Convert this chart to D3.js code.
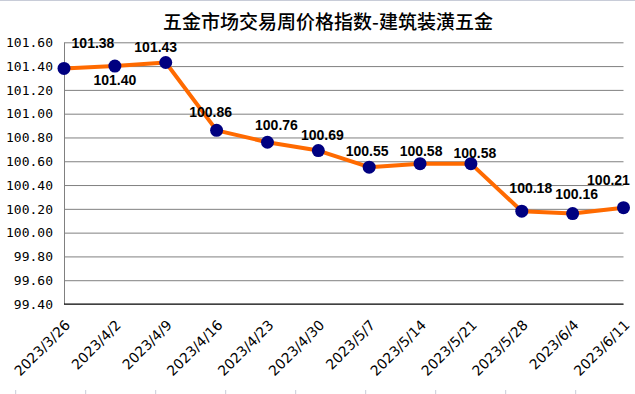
<!DOCTYPE html>
<meta charset="utf-8">
<style>
body { margin: 0; background: #fff; }
.grid line { stroke: #808080; stroke-width: 1; }
.grid path { display: none; }
.yAxis text { font-family: "DejaVu Sans Mono", monospace; font-size: 13px; fill: #000; }
.xAxis text { font-family: "DejaVu Sans", sans-serif; font-size: 14px; fill: #000; }
.valueLabel { font-family: "Liberation Sans", Arial, sans-serif; font-size: 14px; font-weight: bold; fill: #000; }
</style>
<script src="https://cdn.jsdelivr.net/npm/d3@7"></script>
<body>
<script>
const title = '五金市场交易周价格指数-建筑装潢五金';
const dates = ['2023/3/26', '2023/4/2', '2023/4/9', '2023/4/16', '2023/4/23', '2023/4/30',
               '2023/5/7', '2023/5/14', '2023/5/21', '2023/5/28', '2023/6/4', '2023/6/11'];
const values = [101.38, 101.40, 101.43, 100.86, 100.76, 100.69, 100.55, 100.58, 100.58, 100.18, 100.16, 100.21];
const yTicks = [99.40, 99.60, 99.80, 100.00, 100.20, 100.40, 100.60, 100.80, 101.00, 101.20, 101.40, 101.60];

// label offsets (dx, dy of baseline centre relative to point)
const labelOffsets = [[29, -20], [0, 19], [-10, -11], [-6, -13], [9, -12], [4, -11],
                      [-2, -11], [1, -8], [4, -6], [9, -18], [4, -15], [-15, -23]];

const W = 635, H = 394;
const plotLeft = 64, plotRight = 623.5, plotTop = 42.3, plotBottom = 304;

const svg = d3.select('body').append('svg')
  .attr('width', W).attr('height', H);

// faint outer border line at top
svg.append('line')
  .attr('x1', 0).attr('x2', W).attr('y1', 0.5).attr('y2', 0.5)
  .attr('stroke', '#c8ccd8');

svg.append('text')
  .attr('x', 328).attr('y', 29)
  .attr('text-anchor', 'middle')
  .style('font-family', '"Noto Sans CJK SC", sans-serif')
  .style('font-size', '19px')
  .style('font-weight', '500')
  .text(title);

const x = d3.scalePoint().domain(dates).range([plotLeft, plotRight]);
const y = d3.scaleLinear().domain([99.4, 101.6]).range([plotBottom, plotTop]);

// gridlines
svg.append('g').attr('class', 'grid')
  .attr('transform', `translate(${plotLeft},0)`)
  .call(d3.axisLeft(y).tickValues(yTicks).tickSize(-(plotRight - plotLeft)).tickFormat(''));

// y axis labels
const yAxis = svg.append('g').attr('class', 'yAxis')
  .attr('transform', `translate(${plotLeft},0)`)
  .call(d3.axisLeft(y).tickValues(yTicks).tickSize(0).tickPadding(11).tickFormat(d => d.toFixed(2)));
yAxis.select('.domain').attr('stroke', '#808080');

// x axis
svg.append('line')
  .attr('x1', plotLeft).attr('x2', plotRight).attr('y1', plotBottom).attr('y2', plotBottom)
  .attr('stroke', '#000');

const xAxis = svg.append('g').attr('class', 'xAxis');
xAxis.selectAll('text').data(dates).join('text')
  .attr('text-anchor', 'end')
  .attr('transform', d => `translate(${x(d) + 7},326) rotate(-45)`)
  .text(d => d);

// small ticks at very bottom
svg.append('g').selectAll('line').data(d3.range(9)).join('line')
  .attr('x1', i => 15.7 + 70 * i).attr('x2', i => 15.7 + 70 * i)
  .attr('y1', 390).attr('y2', 394)
  .attr('stroke', '#c8ccd8');

// line
const line = d3.line().x((d, i) => x(dates[i])).y(d => y(d));
svg.append('path')
  .datum(values)
  .attr('fill', 'none')
  .attr('stroke', '#ff6a00')
  .attr('stroke-width', 4)
  .attr('stroke-linejoin', 'round')
  .attr('d', line);

svg.append('g').selectAll('circle').data(values).join('circle')
  .attr('cx', (d, i) => x(dates[i]))
  .attr('cy', d => y(d))
  .attr('r', 6.5)
  .attr('fill', '#000080');

svg.append('g').selectAll('text').data(values).join('text')
  .attr('class', 'valueLabel')
  .attr('text-anchor', 'middle')
  .attr('x', (d, i) => x(dates[i]) + labelOffsets[i][0])
  .attr('y', (d, i) => y(d) + labelOffsets[i][1])
  .text(d => d.toFixed(2));
</script>
</body>
</html>
